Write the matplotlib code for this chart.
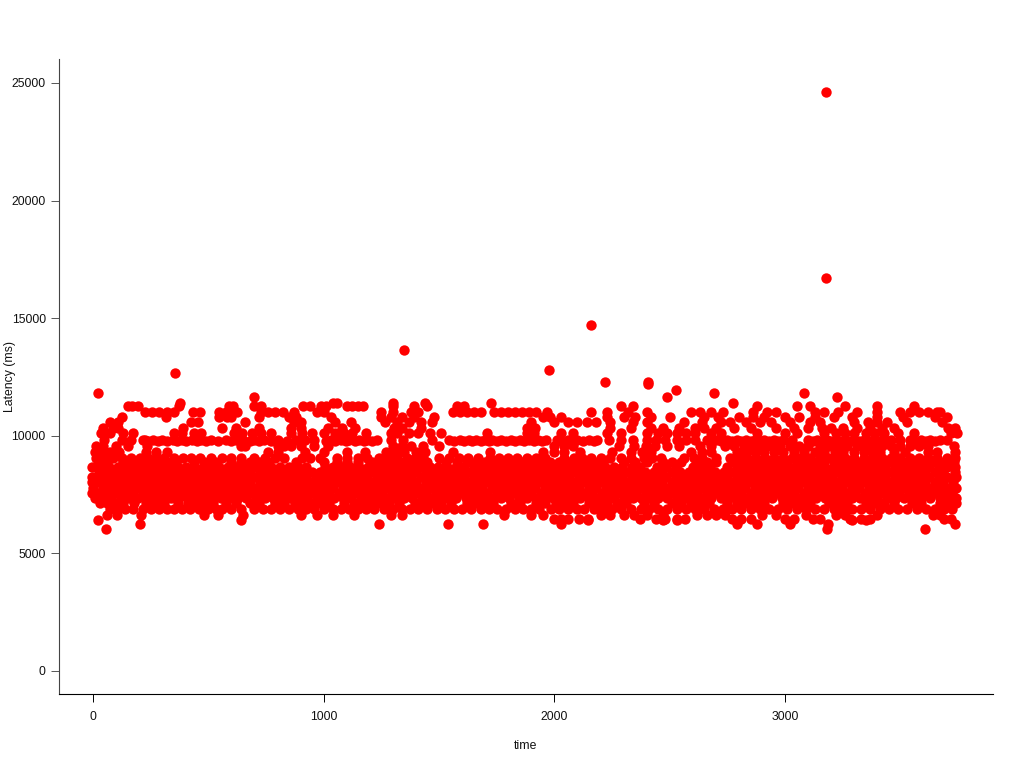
#!/usr/bin/python3
import matplotlib
matplotlib.use('agg')
import matplotlib.pyplot as plt

plt.rcParams.update({"font.family": ["Liberation Sans", "DejaVu Sans"], "font.size": 8.8})

# time values per latency level
levels = {}
levels[6480] = [2000,2030,2060,2105,2145,2370,2440,2480,2530,2565,2770,2810,2850,3000,3040,3120,3150,3280,3330,3370,3690,3720]
levels[6650] = [62,105,210,480,540,650,900,970,1040,1130,1290,1340,1780,1900,1950,2200,2240,2300,2345,2400,2470,2620,2660,2700,2740,2900,2960,3090,3220,3260,3400,3640,3670]
levels[6900] = [75,110,140,175,215,250,285,320,350,385,420,460,500,535,560,600,640,700,735,770,810,850,890,925,960,1000,1040,1075,1110,1150,1185,1220,1260,1300,1340,1375,1410,1450,1490,1525,1565,1600,1640,1680,1715,1750,1790,1830,1865,1900,1935,1985,2020,2060,2100,2130,2170,2210,2250,2290,2330,2375,2410,2450,2490,2530,2570,2610,2650,2690,2730,2770,2810,2850,2890,2930,2970,3010,3050,3090,3130,3170,3210,3250,3290,3330,3370,3410,3450,3490,3530,3570,3610,3650,3690,3725]
levels[7130] = [30,62,95,130,180,230,270,310,370,410,445,480,520,575,620,680,720,790,830,875,910,945,985,1025,1090,1130,1170,1205,1245,1285,1325,1395,1435,1470,1510,1550,1620,1660,1700,1735,1810,1850,1920,1960,2005,2040,2080,2150,2190,2230,2270,2310,2390,2430,2510,2550,2590,2630,2670,2750,2790,2830,2870,2910,2990,3030,3070,3110,3190,3230,3270,3350,3390,3430,3470,3550,3590,3670,3710,3740]
levels[7350] = [10,45,80,120,155,195,235,270,305,340,375,410,450,485,520,555,590,630,665,705,745,780,820,855,895,930,970,1005,1045,1085,1120,1160,1195,1235,1275,1310,1350,1385,1425,1465,1500,1540,1575,1615,1655,1690,1730,1770,1805,1845,1880,1920,1960,1995,2035,2070,2110,2150,2185,2225,2260,2300,2340,2375,2415,2450,2490,2530,2565,2605,2640,2680,2720,2755,2795,2830,2870,2910,2945,2985,3020,3060,3100,3135,3175,3210,3250,3290,3325,3365,3400,3440,3480,3515,3555,3590,3630,3670,3705,3740]
levels[7570] = [-2,28,65,100,140,175,215,255,290,325,360,395,430,470,505,540,575,610,650,685,725,765,800,840,875,915,950,990,1025,1065,1105,1140,1180,1215,1255,1295,1330,1370,1405,1445,1485,1520,1560,1595,1635,1675,1710,1750,1785,1825,1865,1900,1940,1975,2015,2050,2090,2130,2165,2205,2240,2280,2320,2355,2395,2430,2470,2510,2545,2585,2620,2660,2700,2735,2775,2810,2850,2890,2925,2965,3000,3040,3080,3115,3155,3190,3230,3270,3305,3345,3380,3420,3460,3495,3535,3570,3610,3650,3685,3725]
levels[7800] = [0,42,78,115,150,190,228,265,300,338,372,408,445,482,518,552,590,628,662,702,740,778,815,852,892,928,968,1002,1042,1082,1118,1158,1192,1232,1272,1308,1348,1382,1422,1462,1498,1538,1572,1612,1652,1688,1728,1768,1802,1842,1878,1918,1958,1992,2032,2068,2108,2148,2182,2222,2258,2298,2338,2372,2412,2448,2488,2528,2562,2602,2638,2678,2718,2752,2792,2828,2868,2908,2942,2982,3018,3058,3098,3132,3172,3208,3248,3288,3322,3362,3398,3438,3478,3512,3552,3588,3628,3668,3702,3742]
levels[8030] = [-3,25,60,98,135,172,210,248,285,322,358,392,428,465,500,535,572,608,645,682,722,760,798,835,872,912,948,985,1022,1062,1100,1138,1175,1212,1252,1290,1328,1365,1402,1442,1480,1518,1555,1592,1632,1670,1708,1748,1785,1822,1860,1898,1938,1975,2012,2050,2088,2128,2165,2202,2240,2278,2318,2355,2392,2430,2468,2508,2545,2582,2620,2658,2698,2735,2772,2810,2848,2888,2925,2962,3000,3038,3078,3115,3152,3190,3228,3268,3305,3342,3380,3418,3458,3495,3532,3570,3608,3648,3685,3728]
levels[8250] = [-2,35,72,110,148,185,222,260,298,335,370,405,442,480,515,550,588,625,660,700,738,775,812,850,890,925,965,1000,1040,1080,1115,1155,1190,1230,1270,1305,1345,1380,1420,1460,1495,1535,1570,1610,1650,1685,1725,1765,1800,1840,1875,1915,1955,1990,2030,2065,2105,2145,2180,2220,2255,2295,2335,2370,2410,2445,2485,2525,2560,2600,2635,2675,2715,2750,2790,2825,2865,2905,2940,2980,3015,3055,3095,3130,3170,3205,3245,3285,3320,3360,3395,3435,3475,3510,3550,3585,3625,3665,3700,3742]
levels[8450] = [28,62,98,135,172,210,248,285,322,358,392,428,465,500,535,572,608,645,682,722,760,798,835,872,912,948,985,1022,1062,1100,1138,1175,1212,1252,1290,1328,1365,1402,1442,1480,1518,1555,1592,1632,1670,1708,1748,1785,1822,1860,1898,1938,1975,2012,2050,2088,2128,2165,2202,2240,2278,2318,2355,2392,2430,2468,2508,2545,2582,2620,2658,2698,2735,2772,2810,2848,2888,2925,2962,3000,3038,3078,3115,3152,3190,3228,3268,3305,3342,3380,3418,3458,3495,3532,3570,3608,3648,3685,3738]
levels[8680] = [-3,35,70,108,145,182,220,258,295,332,368,402,440,478,512,548,585,622,658,698,735,772,810,848,888,922,1005,1040,1078,1115,1155,1192,1230,1270,1305,1345,1382,1420,1460,1495,1535,1572,1610,1650,1685,1725,1765,1800,1840,1878,1915,1955,1990,2030,2068,2105,2145,2182,2220,2258,2295,2335,2372,2445,2485,2525,2600,2635,2675,2750,2790,2828,2865,2905,2942,2980,3018,3055,3095,3130,3170,3208,3245,3285,3322,3360,3398,3435,3475,3512,3550,3588,3625,3665,3702,3738]
levels[8870] = [25,62,130,170,210,245,280,320,360,440,480,530,600,640,680,720,760,880,1000,1060,1100,1150,1210,1250,1290,1330,1370,1410,1450,1530,1580,1620,1660,1700,1740,1780,1820,1860,1900,1940,1980,2020,2060,2090,2130,2170,2210,2300,2350,2400,2470,2510,2550,2620,2660,2700,2780,2820,2850,2890,2930,2970,3010,3050,3090,3130,3170,3210,3250,3290,3330,3370,3410,3450,3490,3530,3570,3610,3650,3690,3730]
levels[9050] = [15,50,85,125,165,205,240,275,310,350,390,425,465,510,560,600,640,700,745,790,830,905,940,985,1060,1100,1150,1190,1240,1280,1320,1360,1395,1430,1500,1545,1585,1625,1670,1720,1760,1800,1840,1880,1920,1960,2040,2085,2120,2160,2200,2240,2290,2330,2390,2425,2460,2560,2605,2640,2700,2760,2800,2835,2875,2915,2950,2990,3030,3070,3110,3150,3185,3225,3260,3300,3340,3380,3420,3460,3500,3540,3580,3620,3660,3700,3735]
levels[9300] = [8,40,75,115,230,275,320,760,800,920,1000,1100,1180,1270,1310,1350,1400,1440,1560,1720,1950,2000,2040,2110,2250,2330,2380,2420,2590,2640,2680,2790,2830,2870,2910,2950,2990,3040,3080,3130,3170,3215,3250,3300,3340,3375,3410,3470,3520,3620,3660,3735]
levels[9550] = [12,45,100,150,235,640,660,800,830,860,900,960,1020,1300,1340,1380,1430,1500,2000,2040,2080,2280,2345,2395,2435,2490,2540,2630,2680,2740,2780,2820,2860,2900,2940,2980,3020,3060,3100,3150,3190,3230,3270,3310,3350,3380,3420,3460,3500,3540,3580,3620,3730]
levels[9800] = [50,125,165,215,225,260,300,345,385,430,470,510,575,620,650,700,740,800,880,920,960,1030,1075,1110,1155,1190,1230,1290,1345,1470,1545,1590,1630,1660,1700,1730,1770,1810,1850,1890,1930,1965,2010,2060,2100,2150,2185,2235,2290,2340,2400,2440,2480,2530,2570,2610,2660,2700,2750,2790,2830,2870,2910,2950,2990,3030,3100,3140,3180,3220,3260,3300,3340,3380,3420,3460,3500,3540,3590,3630,3670,3700]
levels[9780] = [240,280,320,365,405,450,490,540,600,680,720,770,840,1010,1050,1095,1135,1175,1210,1565,1610,1645,1680,1715,1750,1790,1830,1870,1910,1945,2030,2080,2125,2170,2720,2770,2810,2850,2890,2930,2970,3120,3160,3200,3240,3280,3320,3360,3400,3440,3560,3610,3650]
levels[10120] = [35,75,130,175,350,385,440,470,610,645,690,730,770,860,905,950,1000,1050,1090,1125,1185,1290,1320,1370,1410,1460,1510,1710,1880,1910,2030,2080,2230,2290,2400,2450,2490,2530,2570,2610,2680,2720,2880,3000,3050,3170,3220,3260,3300,3350,3390,3430,3490,3560,3720,3745]
levels[10350] = [45,88,110,390,560,620,720,860,900,1020,1080,1135,1305,1340,1420,1880,1915,2240,2330,2420,2470,2540,2610,2650,2700,2780,2850,2960,3040,3100,3160,3200,3250,3310,3370,3420,3470,3705,3735]
levels[10580] = [75,110,425,455,660,870,900,1050,1120,1265,1320,1370,1420,1470,1900,2000,2060,2100,2140,2180,2240,2340,2400,2560,2640,2720,2760,2830,2890,2940,3020,3110,3150,3300,3360,3400,3440,3530,3680]
levels[10800] = [125,315,545,580,600,720,850,880,1030,1250,1290,1340,1390,1480,1950,1980,2030,2230,2300,2350,2420,2500,2650,2710,2800,2860,2910,3000,3060,3130,3210,3290,3400,3510,3650,3700]
levels[11030] = [225,255,285,320,350,435,465,545,575,600,625,730,760,790,825,870,970,1000,1250,1300,1380,1410,1560,1590,1620,1650,1680,1740,1770,1800,1830,1860,1890,1920,1970,2160,2230,2320,2400,2590,2630,2680,2730,2860,2920,2960,3130,3170,3230,3310,3400,3500,3540,3580,3620,3660,3670]
levels[11250] = [150,170,195,375,590,605,700,730,912,940,990,1010,1100,1125,1150,1170,1300,1390,1450,1580,1610,2290,2340,2880,3050,3110,3260,3400,3560]
levels[11400] = [378,1040,1060,1300,1440,1725,2775]
levels[11650] = [700,2490,3225]
levels[11800] = [20,2690,3080]
levels[11950] = [2525]
levels[12200] = [2405]
levels[12300] = [2220,2405]
levels[12650] = [355]
levels[12800] = [1975]
levels[13650] = [1350]
levels[14700] = [2160]
levels[16700] = [3177]
levels[24620] = [3177]
levels[6400] = [20,640,2145,2470,2530,3290,3350]
levels[6230] = [205,1240,1540,1690,2030,2790,2880,3020,3185,3735]
levels[6030] = [55,3180,3605]

fig = plt.figure(figsize=(10.24, 7.68), dpi=100)
ax = fig.add_axes([59/1024, 1 - 694/768, (993 - 59)/1024, (694 - 59)/768])

for lat, times in levels.items():
    ax.scatter(times, [lat]*len(times), s=56, color='#ff0000', linewidths=0, clip_on=False, zorder=3)

ax.set_xlim(-147, 3901)
ax.set_ylim(-978, 26020)
ax.set_xticks([0, 1000, 2000, 3000])
ax.set_yticks([0, 5000, 10000, 15000, 20000, 25000])
ax.spines['top'].set_visible(False)
ax.spines['right'].set_visible(False)
ax.spines['left'].set_linewidth(0.8)
ax.spines['left'].set_color('#444444')
ax.spines['bottom'].set_linewidth(0.8)
ax.tick_params(axis='x', length=5.5, width=0.7, pad=7, labelcolor='#111111')
ax.tick_params(axis='y', length=5.5, width=0.7, pad=4, labelcolor='#111111', color='#555555')
ax.set_xlabel("time", labelpad=12, color='#111111')
ax.set_ylabel("Latency (ms)", color='#111111')
ax.yaxis.set_label_coords(-43/934, 0.5)

plt.savefig("out.png", dpi=100)
